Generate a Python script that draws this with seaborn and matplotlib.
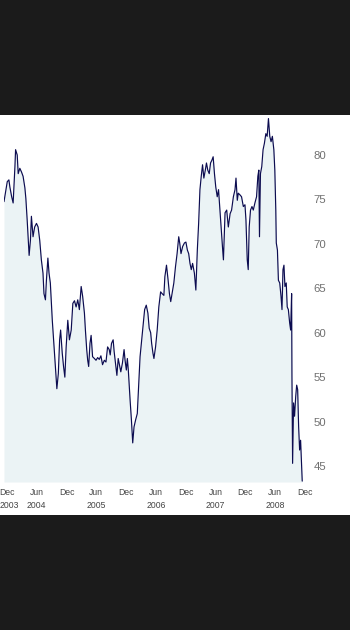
import matplotlib
matplotlib.use("Agg")
import matplotlib.pyplot as plt
import matplotlib.transforms as mtransforms
from matplotlib.patches import Rectangle
import seaborn as sns
import pandas as pd
import numpy as np

# ---- data ----
start_date = "2003-12-01"
day_offsets = [
    -18, 2, 12, 18, 29, 38, 49, 53, 63, 69, 79, 89, 99, 110, 116, 124, 136, 144, 150, 160,
    170, 181, 191, 201, 211, 221, 227, 236, 242, 251, 258, 266, 278, 286, 298, 306, 315, 323, 329, 339,
    347, 355, 363, 373, 383, 394, 404, 414, 424, 434, 444, 455, 464, 475, 481, 489, 495, 501, 509, 516,
    525, 536, 546, 556, 566, 576, 586, 597, 607, 617, 627, 633, 641, 651, 657, 668, 674, 682, 692, 698,
    708, 718, 724, 732, 738, 744, 755, 763, 771, 779, 789, 799, 810, 816, 826, 836, 844, 854, 864, 872,
    881, 887, 895, 901, 911, 921, 931, 942, 951, 962, 968, 978, 988, 996, 1004, 1012, 1023, 1033, 1043, 1053,
    1059, 1067, 1077, 1088, 1097, 1106, 1114, 1122, 1130, 1138, 1149, 1158, 1167, 1175, 1183, 1191, 1199, 1207, 1216, 1223,
    1231, 1240, 1248, 1256, 1264, 1272, 1280, 1289, 1297, 1304, 1313, 1321, 1327, 1337, 1347, 1357, 1368, 1377, 1388, 1398,
    1404, 1412, 1418, 1429, 1438, 1449, 1459, 1465, 1473, 1479, 1485, 1493, 1502, 1510, 1520, 1530, 1538, 1544, 1548, 1554,
    1562, 1570, 1578, 1587, 1595, 1603, 1611, 1619, 1627, 1636, 1642, 1648, 1651, 1658, 1664, 1672, 1680, 1686, 1692, 1698,
    1704, 1712, 1718, 1725, 1733, 1739, 1745, 1747, 1751, 1757, 1763, 1770, 1776, 1782, 1788, 1794, 1800, 1806, 1810,
]
prices = [
    74.75, 77.0, 77.2, 76.4, 75.3, 74.6, 78.7, 80.6, 80.0, 77.9, 78.5, 78.1, 77.6, 76.3, 75.1, 72.7, 68.7, 70.4, 73.1, 70.8,
    71.9, 72.3, 71.9, 70.4, 68.2, 66.7, 64.4, 63.7, 65.9, 68.4, 66.7, 65.6, 61.4, 59.2, 55.8, 53.7, 55.4, 59.2, 60.3, 57.7,
    56.2, 55.0, 58.4, 61.4, 59.2, 60.3, 63.3, 63.6, 62.9, 63.7, 62.6, 65.2, 64.1, 62.2, 60.3, 58.1, 56.9, 56.2, 58.8, 59.7,
    57.3, 57.1, 56.9, 57.2, 57.0, 57.4, 56.4, 56.9, 56.7, 58.4, 58.1, 57.5, 58.8, 59.2, 57.9, 56.2, 55.2, 57.1, 56.2, 55.6,
    56.6, 58.1, 56.9, 55.8, 57.1, 55.8, 52.4, 50.2, 47.6, 49.4, 50.2, 50.9, 55.1, 57.3, 59.2, 61.1, 62.6, 63.1, 62.2, 60.5,
    60.0, 58.8, 57.7, 57.1, 58.4, 60.3, 62.9, 64.6, 64.4, 64.2, 66.3, 67.6, 65.9, 64.4, 63.5, 64.4, 65.6, 67.4, 68.9, 70.8,
    70.1, 68.9, 69.7, 70.1, 70.2, 69.3, 68.9, 67.8, 67.1, 67.8, 66.7, 64.8, 69.3, 72.3, 76.1, 77.6, 78.9, 77.4, 78.3, 79.1,
    78.3, 77.9, 79.1, 79.4, 79.8, 77.9, 76.4, 75.3, 76.1, 74.2, 71.6, 69.7, 68.2, 73.5, 73.8, 71.9, 73.4, 73.8, 75.3, 76.1,
    77.4, 74.9, 75.7, 75.5, 75.3, 74.2, 74.4, 72.7, 68.2, 67.1, 71.9, 73.8, 74.2, 73.8, 74.6, 75.3, 77.6, 78.3, 70.8, 77.9,
    78.7, 80.6, 81.3, 82.4, 82.1, 84.1, 82.1, 81.5, 82.1, 80.6, 78.3, 73.8, 70.1, 69.3, 65.9, 65.6, 64.1, 62.6, 67.1, 67.6,
    65.2, 65.6, 62.9, 62.6, 61.1, 60.3, 64.4, 55.1, 45.3, 52.1, 50.6, 52.8, 54.1, 53.6, 49.4, 46.8, 47.9, 45.3, 43.3,
]
y_ticks = [45, 50, 55, 60, 65, 70, 75, 80]
x_tick_dates = ["2003-12-01", "2004-06-01", "2004-12-01", "2005-06-01", "2005-12-01", "2006-06-01",
                "2006-12-01", "2007-06-01", "2007-12-01", "2008-06-01", "2008-12-01"]
month_labels = ["Dec", "Jun", "Dec", "Jun", "Dec", "Jun", "Dec", "Jun", "Dec", "Jun", "Dec"]
year_labels = ["2003", "2004", "", "2005", "", "2006", "", "2007", "", "2008", ""]

dates = pd.Timestamp(start_date) + pd.to_timedelta(day_offsets, unit="D")
df = pd.DataFrame({"date": dates, "price": prices})

# ---- style ----
sns.set_style("white")
plt.rcParams["font.family"] = ["Liberation Sans", "DejaVu Sans"]

W, H = 350, 630
fig = plt.figure(figsize=(W / 100, H / 100), dpi=100, facecolor="#1b1b1b")
panel = Rectangle((0, (H - 515) / H), 1, 400 / H, transform=fig.transFigure,
                  facecolor="white", edgecolor="none", zorder=-10)
fig.add_artist(panel)

left, right, top, bottom = 4, 305, 115, 482
ax = fig.add_axes([left / W, (H - bottom) / H, (right - left) / W, (bottom - top) / H])
ax.set_zorder(5)
ax.set_facecolor("white")

ymin, ymax = 43.2, 84.5
ax.fill_between(df["date"], df["price"], ymin, color="#ebf3f5", linewidth=0, zorder=1)
sns.lineplot(data=df, x="date", y="price", ax=ax, color="#0c0c50", linewidth=0.85, zorder=2)

ax.set_ylim(ymin, ymax)
ax.set_xlim(pd.Timestamp(start_date) + pd.Timedelta(days=-18),
            pd.Timestamp(start_date) + pd.Timedelta(days=1814))

ax.set_xlabel("")
ax.set_ylabel("")
for s in ax.spines.values():
    s.set_visible(False)

ax.yaxis.tick_right()
ax.set_yticks(y_ticks)
ax.set_yticklabels([str(v) for v in y_ticks])
ax.tick_params(axis="y", length=0, pad=6, labelsize=8.2, labelcolor="#707070",
               labelleft=False, labelright=True)

tick_pos = pd.to_datetime(x_tick_dates)
ax.set_xticks(tick_pos)
ax.set_xticklabels(month_labels)
ax.tick_params(axis="x", length=0, pad=4, labelsize=6.2, labelcolor="#444444")

# year row under the month row
trans = mtransforms.blended_transform_factory(ax.transData, ax.transAxes)
off = mtransforms.ScaledTranslation(0, -24 / 100, fig.dpi_scale_trans)
for i, (d, yl) in enumerate(zip(tick_pos, year_labels)):
    if not yl:
        continue
    if i == 0:
        ax.text(0, 0, yl, transform=ax.transAxes + off + mtransforms.ScaledTranslation(-4 / 100, 0, fig.dpi_scale_trans),
                ha="left", va="center", fontsize=6.2, color="#444444")
    else:
        ax.text(d, 0, yl, transform=trans + off, ha="center", va="center",
                fontsize=6.2, color="#444444")

fig.savefig("out.png", dpi=100, facecolor=fig.get_facecolor())
